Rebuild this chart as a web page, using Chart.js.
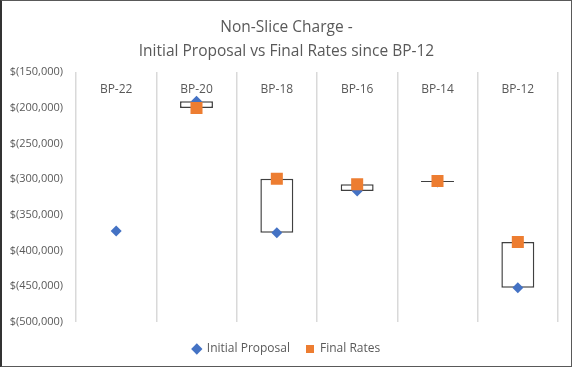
<!DOCTYPE html>
<html>
<head>
<meta charset="utf-8">
<script src="https://cdn.jsdelivr.net/npm/chart.js@4.4.1/dist/chart.umd.min.js"></script>
<style>
    body { margin: 0; background: #fff; }
    #wrap { position: relative; width: 573px; height: 369px; }
    #frame {
        position: absolute; left: 0; top: 0;
        width: 569px; height: 365px;
        border: 1px solid #595959; border-left: 2px solid #333;
        pointer-events: none;
    }
</style>
</head>
<body>
<div id="wrap">
    <canvas id="visplot" width="573" height="369"></canvas>
    <div id="frame"></div>
</div>
<script>
// values
let categories = ['BP-22', 'BP-20', 'BP-18', 'BP-16', 'BP-14', 'BP-12']
let initialProposal = [-372500, -191000, -375000, -316500, -304000, -452000]
let finalRates = [null, -200500, -299500, -307000, -302500, -388000]

let yMin = -500000
let yMax = -150000
let yStep = 50000

// floating box between initial proposal and final rate
let rangeBars = initialProposal.map((v, i) => finalRates[i] == null ? null : [v, finalRates[i]])

const grey = '#595959'
const font = '"Open Sans", sans-serif'

// category labels sit inside the plot, just under the top
let topLabels = {
    id: 'topLabels',
    afterDraw(chart) {
        let ctx = chart.ctx
        let x = chart.scales.x
        ctx.save()
        ctx.font = `12px ${font}`
        ctx.fillStyle = grey
        ctx.textAlign = 'center'
        ctx.textBaseline = 'middle'
        categories.forEach((c, i) => {
            ctx.fillText(c, x.getPixelForValue(i), chart.chartArea.top + 18)
        })
        ctx.restore()
    }
}

new Chart('visplot', {
    type: 'bar',
    data: {
        labels: categories,
        datasets: [
            {
                type: 'line',
                label: 'Final Rates',
                data: finalRates,
                showLine: false,
                pointStyle: 'rect',
                pointRadius: 8.5,
                pointHoverRadius: 8.5,
                backgroundColor: '#ED7D31',
                borderColor: '#ED7D31',
                pointBorderWidth: 0,
                order: 0
            },
            {
                type: 'line',
                label: 'Initial Proposal',
                data: initialProposal,
                showLine: false,
                pointStyle: 'rectRot',
                pointRadius: 5.5,
                pointHoverRadius: 5.5,
                backgroundColor: '#4472C4',
                borderColor: '#4472C4',
                pointBorderWidth: 0,
                order: 1
            },
            {
                label: 'range',
                data: rangeBars,
                backgroundColor: '#ffffff',
                borderColor: '#404040',
                borderWidth: 1.5,
                borderSkipped: false,
                barPercentage: 0.41,
                categoryPercentage: 1,
                order: 2
            }
        ]
    },
    options: {
        responsive: false,
        animation: false,
        layout: { padding: { left: 0, right: 0, top: 0, bottom: 4 } },
        plugins: {
            title: {
                display: true,
                text: ['Non-Slice Charge -', 'Initial Proposal vs Final Rates since BP-12'],
                color: grey,
                font: { family: font, size: 15.5, weight: 'normal', lineHeight: 1.55 },
                padding: { top: 16, bottom: 8 }
            },
            legend: {
                position: 'bottom',
                reverse: true,
                labels: {
                    usePointStyle: true,
                    boxWidth: 8,
                    boxHeight: 8,
                    padding: 16,
                    color: grey,
                    font: { family: font, size: 12 },
                    filter: item => item.text !== 'range'
                }
            },
            tooltip: { enabled: false }
        },
        scales: {
            x: {
                position: 'bottom',
                ticks: { display: false },
                border: { display: false },
                grid: { color: '#d9d9d9', lineWidth: 1.5, drawTicks: false },
                afterFit: s => { s.height = 5 }
            },
            y: {
                min: yMin,
                max: yMax,
                ticks: {
                    stepSize: yStep,
                    padding: 13,
                    color: grey,
                    font: { family: font, size: 11 },
                    callback: v => '$(' + Math.abs(v).toLocaleString('en-US') + ')'
                },
                border: { display: false },
                grid: { display: false, drawTicks: false },
                afterFit: s => { s.width = 76 }
            },
            // empty right axis, only keeps the right margin so the legend stays centred
            yRight: {
                position: 'right',
                ticks: { display: false },
                border: { display: false },
                grid: { display: false, drawTicks: false },
                afterFit: s => { s.width = 15 }
            }
        }
    },
    plugins: [topLabels]
})
</script>
</body>
</html>
